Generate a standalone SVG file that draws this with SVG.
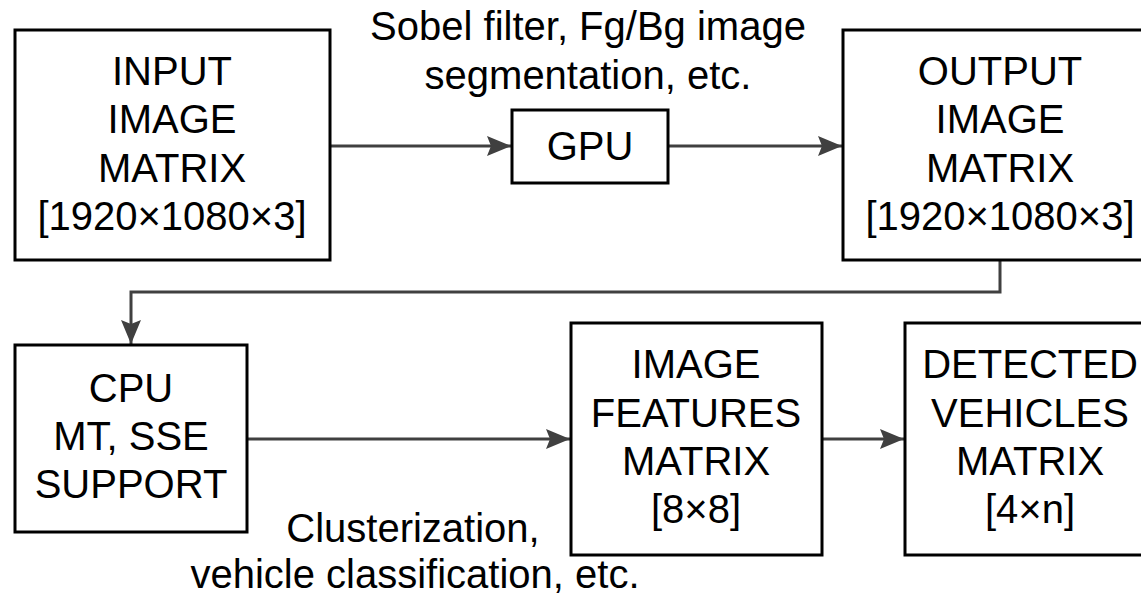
<svg xmlns="http://www.w3.org/2000/svg" width="1141" height="596" viewBox="0 0 1141 596">
  <style>
    .box { fill: #ffffff; stroke: #000000; stroke-width: 3; }
    .lbl { font-family: "Liberation Sans", Arial, sans-serif; font-size: 40px; fill: #000000; text-anchor: middle; }
    .note { font-family: "Liberation Sans", Arial, sans-serif; font-size: 40px; fill: #000000; text-anchor: middle; }
    .wire { fill: none; stroke: #404040; stroke-width: 3; }
  </style>
  <defs>
    <marker id="head" viewBox="0 0 24 20" refX="24" refY="10" markerWidth="24" markerHeight="20" orient="auto" markerUnits="userSpaceOnUse">
      <path d="M0,0 L24,10 L0,20 L4,10 Z" fill="#404040"/>
    </marker>
  </defs>

  <rect width="1141" height="596" fill="#ffffff"/>

  <!-- connectors and their captions -->
  <g id="connectors">
    <line class="wire" x1="330" y1="146" x2="511" y2="146" marker-end="url(#head)"/>
    <line class="wire" x1="668" y1="146" x2="842" y2="146" marker-end="url(#head)"/>
    <polyline class="wire" points="1000,260 1000,292 131,292 131,344" marker-end="url(#head)"/>
    <line class="wire" x1="247" y1="439" x2="570" y2="439" marker-end="url(#head)"/>
    <line class="wire" x1="822" y1="439" x2="904" y2="439" marker-end="url(#head)"/>
    <text class="note" x="588" y="40">Sobel filter, Fg/Bg image</text>
    <text class="note" x="588" y="89">segmentation, etc.</text>
    <text class="note" x="413" y="542">Clusterization,</text>
    <text class="note" x="415" y="588">vehicle classification, etc.</text>
  </g>

  <g id="input">
    <rect class="box" x="15" y="30" width="315" height="230"/>
    <text class="lbl" x="172" y="85">INPUT</text>
    <text class="lbl" x="172" y="133">IMAGE</text>
    <text class="lbl" x="172" y="182">MATRIX</text>
    <text class="lbl" x="172" y="230">[1920×1080×3]</text>
  </g>

  <g id="gpu">
    <rect class="box" x="512" y="110" width="156" height="73"/>
    <text class="lbl" x="590" y="160">GPU</text>
  </g>

  <g id="output">
    <rect class="box" x="843" y="30" width="315" height="230"/>
    <text class="lbl" x="1000" y="85">OUTPUT</text>
    <text class="lbl" x="1000" y="133">IMAGE</text>
    <text class="lbl" x="1000" y="182">MATRIX</text>
    <text class="lbl" x="1000" y="230">[1920×1080×3]</text>
  </g>

  <g id="cpu">
    <rect class="box" x="15" y="345" width="232" height="187"/>
    <text class="lbl" x="131" y="402">CPU</text>
    <text class="lbl" x="131" y="450">MT, SSE</text>
    <text class="lbl" x="131" y="498">SUPPORT</text>
  </g>

  <g id="features">
    <rect class="box" x="571" y="323" width="251" height="232"/>
    <text class="lbl" x="696" y="378">IMAGE</text>
    <text class="lbl" x="696" y="427">FEATURES</text>
    <text class="lbl" x="696" y="475">MATRIX</text>
    <text class="lbl" x="696" y="523">[8×8]</text>
  </g>

  <g id="detected">
    <rect class="box" x="905" y="323" width="251" height="232"/>
    <text class="lbl" x="1030" y="378">DETECTED</text>
    <text class="lbl" x="1030" y="427">VEHICLES</text>
    <text class="lbl" x="1030" y="475">MATRIX</text>
    <text class="lbl" x="1030" y="523">[4×n]</text>
  </g>
</svg>
